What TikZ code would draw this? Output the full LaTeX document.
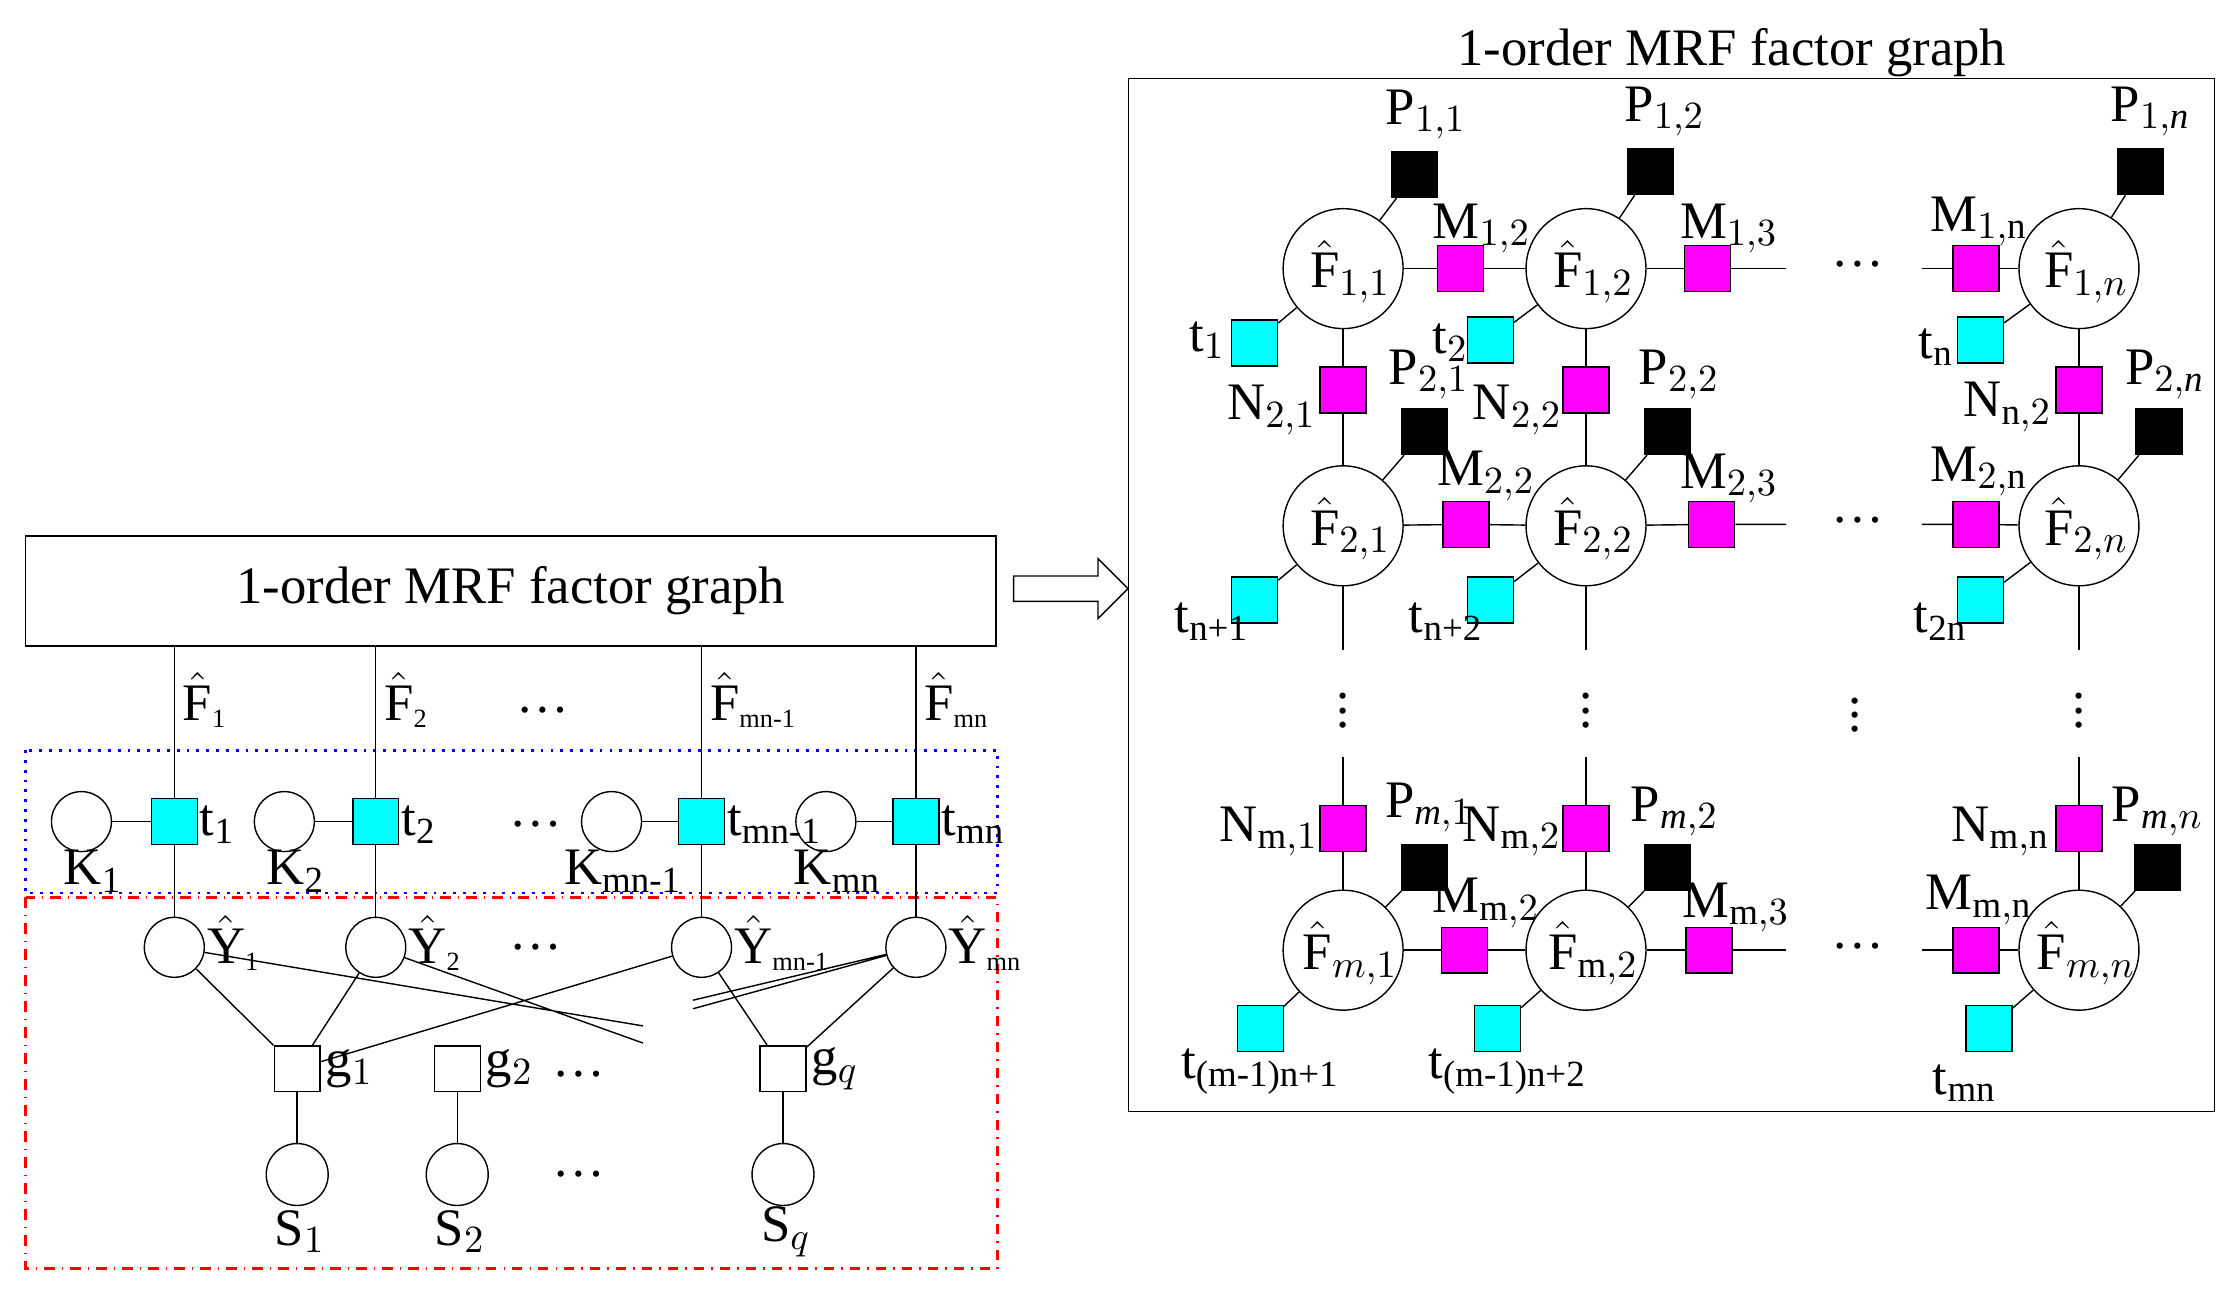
\documentclass[tikz,border=0pt]{standalone}
\usepackage{amsmath}
\usepackage{fontspec}
\setmainfont{Liberation Serif}
\usetikzlibrary{positioning,shapes,shapes.arrows,arrows.meta}
\definecolor{facCyan}{RGB}{0,255,255}
\definecolor{facMag}{RGB}{255,0,255}
\newcommand{\Fh}{\hat{\mathrm{F}}}
\newcommand{\Yh}{\hat{\mathrm{Y}}}
\begin{document}
\begin{tikzpicture}[x=0.01429cm,y=-0.01429cm,
  every node/.style={font=\fontsize{15}{17}\selectfont},
  var/.style={circle,draw,minimum size=1.2cm,inner sep=0pt},
  svar/.style={circle,draw,minimum size=0.6cm,inner sep=0pt},
  fac/.style={rectangle,draw,minimum size=0.46cm,inner sep=0pt},
  cyanf/.style={fac,fill=facCyan},
  magf/.style={fac,fill=facMag},
  blkf/.style={fac,fill=black},
  lbl/.style={inner sep=1pt}]
  \useasboundingbox (0,0) rectangle (1560,913);
  % left part
  \node[draw,minimum width=679*0.01429cm,minimum height=77*0.01429cm] (MRF) at (357.5,413.5) {1-order MRF factor graph};
  \node[single arrow,draw,minimum height=80*0.01429cm,minimum width=42*0.01429cm,
        single arrow head extend=3pt,inner sep=2pt] (Arr) at (745,412) {};
  \draw[blue,dotted,thick] (18,525) rectangle (698,625);
  \draw[red,dash dot,thick] (18,628) rectangle (698,888);
  \foreach \x/\k/\i/\s in {122/57/1/1,263/199/2/2,491/428/3/mn-1,641/578/4/mn}{
    \node[cyanf] (t\i) at (\x,575) {};
    \node[svar] (K\i) at (\k,575) {};
    \node[svar] (Y\i) at (\x,663) {};
    \coordinate (top\i) at (\x,452);
    \draw (top\i) -- (t\i) -- (Y\i);
    \draw (K\i) -- (t\i);
    \node[lbl,anchor=west] at (\x+3,490) {$\Fh_{\scriptscriptstyle \text{\s}}$};
    \node[lbl,anchor=west] at (\x+15,577) {t$_{\text{\s}}$};
    \node[lbl,anchor=north] at (\k+8,592) {K$_{\text{\s}}$};
    \node[lbl,anchor=west] at (\x+20,660) {$\Yh_{\scriptscriptstyle \text{\s}}$};
  }
  \node at (380,497) {\dots};
  \node at (375,577) {\dots};
  \node at (375,663) {\dots};
  \foreach \x/\i/\s in {208/1/1,320/2/2,548/3/q}{
    \node[fac] (g\i) at (\x,748) {};
    \node[svar,minimum size=0.62cm] (S\i) at (\x,822) {};
    \draw (g\i) -- (S\i);
    \node[lbl,anchor=west] at (\x+17,748) {g$_{\s}$};
    \node[lbl] at (\x+2,862) {S$_{\s}$};
  }
  \node at (405,752) {\dots};
  \node at (405,822) {\dots};
  \coordinate (c1) at (450,718);
  \coordinate (c2) at (450,730);
  \coordinate (c3) at (485,700);
  \coordinate (c4) at (485,706);
  \draw (Y1) -- (g1) (Y1) -- (c1) (Y2) -- (g1) (Y2) -- (c2)
        (Y3) -- (g1) (Y3) -- (g3) (Y4) -- (g3) (Y4) -- (c3) (Y4) -- (c4);
  % right part
  \draw (790,55) rectangle (1550,778);
  \node (Title) at (1212,37) {1-order MRF factor graph};
  \foreach \x/\c in {940/1,1110/2,1455/3}{
    \node[var] (F1\c) at (\x,188) {};
    \node[var] (F2\c) at (\x,368) {};
    \node[var] (F3\c) at (\x,665) {};
    \node[magf] (N2\c) at (\x,273) {};
    \node[magf] (N3\c) at (\x,580) {};
    \coordinate (d\c) at (\x,455);
    \coordinate (u\c) at (\x,530);
    \draw (F1\c) -- (N2\c) -- (F2\c) -- (d\c);
    \draw (u\c) -- (N3\c) -- (F3\c);
    \node at (\x,490) {$\vdots$};
  }
  \node at (1298,493) {$\vdots$};
  \node[lbl] at (945,190) {$\Fh_{1,1}$};
  \node[lbl] at (1115,190) {$\Fh_{1,2}$};
  \node[lbl] at (1460,190) {$\Fh_{1,n}$};
  \node[lbl] at (945,370) {$\Fh_{2,1}$};
  \node[lbl] at (1115,370) {$\Fh_{2,2}$};
  \node[lbl] at (1460,370) {$\Fh_{2,n}$};
  \node[lbl] at (945,667) {$\Fh_{m,1}$};
  \node[lbl] at (1115,667) {$\Fh_{\mathrm{m},2}$};
  \node[lbl] at (1460,667) {$\Fh_{m,n}$};
  % horizontal chains
  \foreach \r/\y/\ma/\mb in {1/188/1022/1195,2/367/1026/1198,3/665/1025/1196}{
    \node[magf] (Ma\r) at (\ma,\y) {};
    \node[magf] (Mb\r) at (\mb,\y) {};
    \node[magf] (Mn\r) at (1383,\y) {};
    \coordinate (e\r) at (1250,\y);
    \coordinate (s\r) at (1345,\y);
    \draw (F\r1) -- (Ma\r) -- (F\r2) -- (Mb\r) -- (e\r);
    \draw (s\r) -- (Mn\r) -- (F\r3);
    \node at (1300,\y-3) {\dots};
  }
  % P and t factors
  \foreach \r/\c/\px/\py/\tx/\ty in {1/1/990/122/878/240, 1/2/1155/120/1043/238, 1/3/1498/120/1386/238,
                                   2/1/997/302/878/420, 2/2/1167/302/1043/420, 2/3/1511/302/1386/420,
                                   3/1/997/607/882/720, 3/2/1167/607/1048/720, 3/3/1510/607/1392/720}{
    \node[blkf] (P\r\c) at (\px,\py) {};
    \node[cyanf] (T\r\c) at (\tx,\ty) {};
    \draw (P\r\c) -- (F\r\c);
    \draw (T\r\c) -- (F\r\c);
  }
  % labels
  \node[lbl] at (998,80) {P$_{1,1}$};
  \node[lbl] at (1165,78) {P$_{1,2}$};
  \node[lbl] at (1505,78) {P$_{1,\mathit{n}}$};
  \node[lbl] at (1037,160) {M$_{1,2}$};
  \node[lbl] at (1210,160) {M$_{1,3}$};
  \node[lbl] at (1385,155) {M$_{1,\mathrm{n}}$};
  \node[lbl] at (845,238) {t$_1$};
  \node[lbl] at (1015,240) {t$_2$};
  \node[lbl] at (1355,243) {t$_\mathrm{n}$};
  \node[lbl] at (890,287) {N$_{2,1}$};
  \node[lbl] at (1062,287) {N$_{2,2}$};
  \node[lbl] at (1405,285) {N$_{\mathrm{n},2}$};
  \node[lbl] at (1000,262) {P$_{2,1}$};
  \node[lbl] at (1175,262) {P$_{2,2}$};
  \node[lbl] at (1515,262) {P$_{2,\mathit{n}}$};
  \node[lbl] at (1040,333) {M$_{2,2}$};
  \node[lbl] at (1210,335) {M$_{2,3}$};
  \node[lbl] at (1385,330) {M$_{2,\mathrm{n}}$};
  \node[lbl] at (848,435) {t$_{\text{n+1}}$};
  \node[lbl] at (1012,435) {t$_{\text{n+2}}$};
  \node[lbl] at (1358,435) {t$_{\text{2n}}$};
  \node[lbl] at (888,582) {N$_{\mathrm{m},1}$};
  \node[lbl] at (1058,582) {N$_{\mathrm{m},2}$};
  \node[lbl] at (1400,582) {N$_{\mathrm{m,n}}$};
  \node[lbl] at (1000,565) {P$_{\mathit{m},1}$};
  \node[lbl] at (1172,568) {P$_{\mathit{m},2}$};
  \node[lbl] at (1510,568) {P$_{\mathit{m},n}$};
  \node[lbl] at (1040,632) {M$_{\mathrm{m},2}$};
  \node[lbl] at (1215,635) {M$_{\mathrm{m},3}$};
  \node[lbl] at (1385,630) {M$_{\mathrm{m,n}}$};
  \node[lbl] at (882,750) {t$_{\text{(m-1)n+1}}$};
  \node[lbl] at (1055,750) {t$_{\text{(m-1)n+2}}$};
  \node[lbl] at (1375,758) {t$_{\text{mn}}$};
\end{tikzpicture}
\end{document}
